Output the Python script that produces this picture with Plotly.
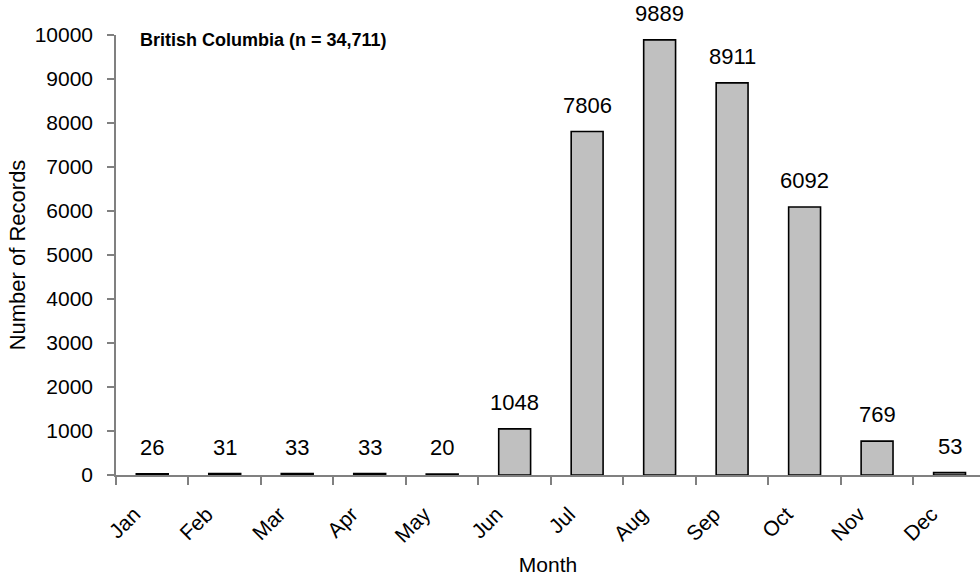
import plotly.graph_objects as go

# Monthly record counts, British Columbia
months = ["Jan", "Feb", "Mar", "Apr", "May", "Jun",
          "Jul", "Aug", "Sep", "Oct", "Nov", "Dec"]
records = [26, 31, 33, 33, 20, 1048, 7806, 9889, 8911, 6092, 769, 53]
y_ticks = list(range(0, 10001, 1000))
panel_title = "British Columbia (n = 34,711)"

FONT = "Liberation Sans, Arial, sans-serif"
AXIS_GREY = "#808080"

fig = go.Figure()
fig.add_trace(go.Bar(
    x=months,
    y=records,
    width=0.44,
    marker=dict(color="#c0c0c0", line=dict(color="#000000", width=1.6)),
    cliponaxis=False,
    showlegend=False,
    hoverinfo="x+y",
))

# value labels above each bar
for m, v in zip(months, records):
    fig.add_annotation(
        x=m, y=v, xref="x", yref="y",
        text=f"{v}", showarrow=False,
        yanchor="bottom", yshift=12,
        font=dict(family=FONT, size=22, color="#000000"),
    )

fig.add_annotation(
    x=0.0255, y=0.989, xref="paper", yref="paper",
    xanchor="left", yanchor="middle",
    text=f"<b>{panel_title}</b>", showarrow=False,
    font=dict(family=FONT, size=18, color="#000000"),
)

fig.update_layout(
    width=980, height=577,
    margin=dict(l=116, r=0, t=35, b=102, autoexpand=False),
    paper_bgcolor="#ffffff",
    plot_bgcolor="#ffffff",
    font=dict(family=FONT, size=21, color="#000000"),
    bargap=0.56,
)

fig.update_xaxes(
    type="category",
    range=[-0.5, 11.42],
    tickson="boundaries",
    ticks="outside", ticklen=8, tickwidth=1.5, tickcolor=AXIS_GREY,
    tickangle=-45,
    ticklabelstandoff=17,
    ticklabelshift=-18,
    tickfont=dict(family=FONT, size=21, color="#000000"),
    showline=True, linecolor=AXIS_GREY, linewidth=1.5,
    showgrid=False, zeroline=False,
    title=dict(text="Month", font=dict(family=FONT, size=21, color="#000000"),
               standoff=12),
    automargin=False,
)

fig.update_yaxes(
    range=[0, 10000],
    tickvals=y_ticks,
    ticktext=[str(t) for t in y_ticks],
    ticks="outside", ticklen=7, tickwidth=1.5, tickcolor=AXIS_GREY,
    ticklabelstandoff=10,
    tickfont=dict(family=FONT, size=21, color="#000000"),
    showline=True, linecolor=AXIS_GREY, linewidth=1.5,
    showgrid=False, zeroline=False,
    title=dict(text="Number of Records",
               font=dict(family=FONT, size=22, color="#000000"),
               standoff=3),
    automargin=False,
)

fig.write_html("out.html")
